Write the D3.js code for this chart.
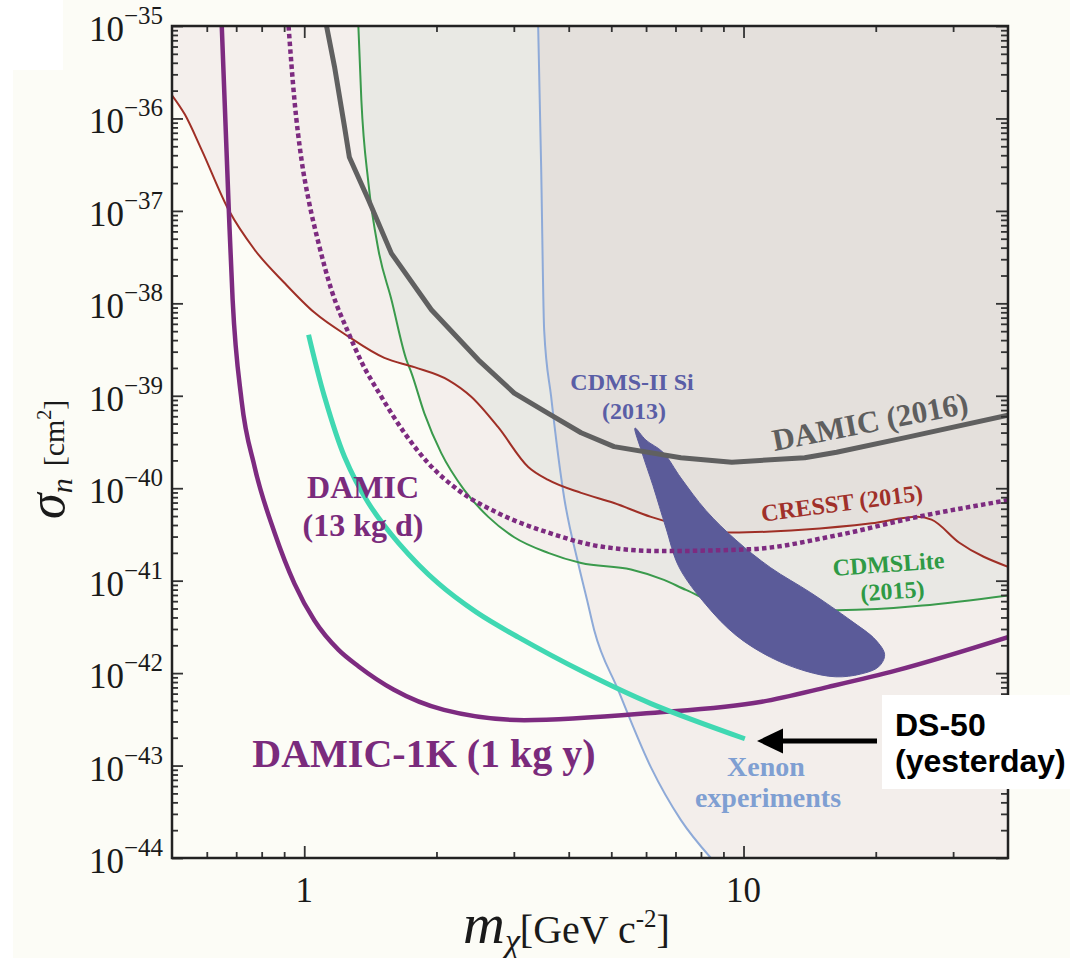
<!DOCTYPE html>
<html><head><meta charset="utf-8">
<script src="https://cdn.jsdelivr.net/npm/d3@7"></script>
<style>html,body{margin:0;padding:0;background:#fcfcf6;} svg{display:block;}</style>
</head><body>
<svg id="chart" width="1070" height="958"></svg>
<script>
// ---------- data (mass in GeV c^-2, cross-section in cm^2) ----------
const massDomain = [0.5, 40];
const sigmaDomain = [1e-44, 1e-35];
const massMajorTicks = [1, 10];
const massTickLabels = ["1", "10"];
const massMinorTicks = [0.6, 0.7, 0.8, 0.9, 2, 3, 4, 5, 6, 7, 8, 9, 20, 30];
const sigmaTickExponents = [-44, -43, -42, -41, -40, -39, -38, -37, -36, -35];

const damic1k = [[0.649,1e-35],[0.673,1.1e-37],[0.687,1.1e-38],[0.720,8.9e-40],[0.771,1.7e-40],[0.856,3.3e-41],[0.950,9.3e-42],[1.055,3.7e-42],[1.197,1.78e-42],[1.33,1.18e-42],[1.60,6.6e-43],[2.08,4.0e-43],[3.17,3.1e-43],[6.15,3.7e-43],[11.0,4.9e-43],[15.6,7.1e-43],[22.3,1.07e-42],[40,2.45e-42]];
const damic13 = [[0.921,1e-35],[0.950,1.58e-36],[0.986,3.55e-37],[1.023,1.32e-37],[1.078,4.47e-38],[1.154,1.38e-38],[1.261,4.79e-39],[1.349,2.34e-39],[1.498,9.77e-40],[1.690,3.98e-40],[1.917,1.86e-40],[2.242,9.55e-41],[2.764,5.37e-41],[3.592,3.31e-41],[4.740,2.34e-41],[6.486,2.09e-41],[10.39,2.19e-41],[16.29,3.09e-41],[24.9,4.90e-41],[40,7.41e-41]];
const damic2016 = [[1.124,1e-35],[1.172,3.63e-36],[1.235,8.13e-37],[1.267,3.80e-37],[1.400,1.32e-37],[1.579,3.47e-38],[1.947,8.51e-39],[2.490,2.45e-39],[3.006,1.07e-39],[3.592,6.46e-40],[4.268,3.98e-40],[5.073,2.82e-40],[7.203,2.14e-40],[9.406,1.91e-40],[13.78,2.14e-40],[16.29,2.45e-40],[23.5,3.55e-40],[40,6.17e-40]];
const cresst = [[0.5,1.78e-36],[0.535,1.10e-36],[0.584,4.57e-37],[0.673,1.02e-37],[0.771,3.80e-38],[0.902,1.66e-38],[1.055,7.94e-39],[1.261,4.37e-39],[1.522,2.57e-39],[1.781,2.04e-39],[2.128,1.48e-39],[2.400,9.77e-40],[2.764,4.57e-40],[3.235,1.70e-40],[3.592,1.23e-40],[4.268,8.91e-41],[5.073,6.92e-41],[6.156,4.90e-41],[9.406,3.31e-41],[13.57,3.55e-41],[19.57,4.17e-41],[24.9,4.90e-41],[26.79,4.57e-41],[31.0,2.57e-41],[40,1.41e-41]];
const cdmslite = [[1.328,1e-35],[1.349,1.58e-36],[1.400,2.00e-37],[1.475,3.80e-38],[1.579,1.10e-38],[1.708,2.45e-39],[1.753,1.78e-39],[1.877,6.46e-40],[2.051,2.40e-40],[2.314,9.55e-41],[2.624,4.90e-41],[3.006,2.95e-41],[3.592,2.00e-41],[4.268,1.55e-41],[5.544,1.32e-41],[6.59,1.02e-41],[7.394,7.94e-42],[9.406,5.13e-42],[16.29,4.79e-42],[40,6.92e-42]];
const xenon = [[3.408,1e-35],[3.462,2.95e-37],[3.517,5.13e-39],[3.648,9.77e-40],[3.905,7.94e-41],[4.202,1.55e-41],[4.404,6.17e-42],[4.569,2.95e-42],[5.18,6.61e-43],[6.156,9.55e-44],[7.203,2.57e-44],[8.428,1e-44]];
const ds50 = [[1.023,4.57e-39],[1.112,9.77e-40],[1.235,2.19e-40],[1.400,6.92e-41],[1.638,2.57e-41],[2.020,9.33e-42],[2.464,4.57e-42],[3.069,2.45e-42],[4.335,1.02e-42],[6.156,4.68e-43],[10.07,1.95e-43]];
const cdmsSi = [[5.662,4.47e-40],[5.998,3.31e-40],[6.556,2.45e-40],[7.203,1.29e-40],[8.21,5.75e-41],[9.61,2.75e-41],[11.53,1.38e-41],[14.22,7.41e-42],[17.53,3.72e-42],[19.98,2.29e-42],[20.95,1.58e-42],[20.30,1.17e-42],[18.48,9.77e-43],[16.21,9.12e-43],[13.86,1.05e-42],[11.53,1.48e-42],[9.61,2.57e-42],[8.21,5.50e-42],[7.128,1.41e-41],[6.66,3.72e-41],[6.22,1.07e-40],[5.87,2.45e-40]];

// ---------- layout ----------
const P = {left:172, right:1008, top:26, bottom:858};
const svg = d3.select("#chart");
const x = d3.scaleLog().domain(massDomain).range([P.left, P.right]);
const y = d3.scaleLog().domain(sigmaDomain).range([P.bottom, P.top]);
const SERIF = "'Liberation Serif','Times New Roman',serif";
const SANS = "'Liberation Sans',Arial,sans-serif";

svg.append("rect").attr("width",1070).attr("height",958).attr("fill","#fcfcf6");
svg.append("rect").attr("x",0).attr("y",0).attr("width",13).attr("height",958).attr("fill","#ffffff");
svg.append("rect").attr("x",0).attr("y",0).attr("width",63).attr("height",70).attr("fill","#ffffff");

const defs = svg.append("defs");
defs.append("clipPath").attr("id","plotclip").append("rect")
  .attr("x",P.left).attr("y",P.top).attr("width",P.right-P.left).attr("height",P.bottom-P.top);
const plot = svg.append("g").attr("clip-path","url(#plotclip)");

const line = (curve) => d3.line().x(d=>x(d[0])).y(d=>y(d[1])).curve(curve);
function region(points, extra, curve){
  return line(curve)(points) + extra.map(e=>`L${x(e[0])},${y(e[1])}`).join("") + "Z";
}
const sTop = sigmaDomain[1], sBot = sigmaDomain[0], mMin = massDomain[0], mMax = massDomain[1];

// excluded regions
const regA = region(cresst, [[mMax,sTop],[mMin,sTop]], d3.curveMonotoneX);   // CRESST
const regB = region(cdmslite, [[mMax,sTop]], d3.curveMonotoneX);               // CDMSLite
const regC = region(xenon, [[mMax,sBot],[mMax,sTop]], d3.curveMonotoneX);      // Xenon
defs.append("clipPath").attr("id","clipA").append("path").attr("d", regA);
defs.append("clipPath").attr("id","clipC").append("path").attr("d", regC);

plot.append("path").attr("d", regC).attr("fill","#f3eeeb");
plot.append("path").attr("d", regA).attr("fill","#f4efec");
plot.append("path").attr("d", regB).attr("fill","#f4efec");
plot.append("g").attr("clip-path","url(#clipA)").append("path").attr("d", regB).attr("fill","#e9e9e4");
plot.append("g").attr("clip-path","url(#clipC)").append("path").attr("d", regB).attr("fill","#e9e8e4");
plot.append("g").attr("clip-path","url(#clipC)").append("path").attr("d", regA).attr("fill","#e4e0dc");

// limit curves
plot.append("path").attr("d", line(d3.curveMonotoneX)(xenon)).attr("fill","none").attr("stroke","#8eaad8").attr("stroke-width",2);
plot.append("path").attr("d", line(d3.curveMonotoneX)(cdmslite)).attr("fill","none").attr("stroke","#3a9a4c").attr("stroke-width",2);
plot.append("path").attr("d", line(d3.curveMonotoneX)(cresst)).attr("fill","none").attr("stroke","#9f2f26").attr("stroke-width",2);
plot.append("path").attr("d", line(d3.curveCatmullRomClosed.alpha(0.5))(cdmsSi)).attr("fill","#5b5b99").attr("stroke","#5b5b99").attr("stroke-width",1);
plot.append("path").attr("d", line(d3.curveLinear)(damic2016)).attr("fill","none").attr("stroke","#606060").attr("stroke-width",5).attr("stroke-linejoin","round");
plot.append("path").attr("d", line(d3.curveMonotoneX)(damic13)).attr("fill","none").attr("stroke","#7d2b80").attr("stroke-width",4.5).attr("stroke-dasharray","4.5 3.2");
plot.append("path").attr("d", line(d3.curveMonotoneX)(damic1k)).attr("fill","none").attr("stroke","#7d2b80").attr("stroke-width",4.5).attr("stroke-linejoin","round");
plot.append("path").attr("d", line(d3.curveCatmullRom.alpha(0.5))(ds50)).attr("fill","none").attr("stroke","#40d8b2").attr("stroke-width",5).attr("stroke-linecap","butt");

// ---------- axes ----------
const sigmaMajor = sigmaTickExponents.map(e=>Math.pow(10,e));
const sigmaMinor = [];
sigmaTickExponents.slice(0,-1).forEach(e=>{ for(let k=2;k<=9;k++) sigmaMinor.push(k*Math.pow(10,e)); });

function styleAxis(g){
  g.select(".domain").remove();
  g.selectAll(".tick line").attr("stroke","#333").attr("stroke-width",1.8);
  g.selectAll(".tick text").remove();
}
svg.append("g").attr("transform",`translate(${P.left},0)`).call(d3.axisLeft(y).tickValues(sigmaMajor).tickSize(-11)).call(styleAxis);
svg.append("g").attr("transform",`translate(${P.left},0)`).call(d3.axisLeft(y).tickValues(sigmaMinor).tickSize(-6)).call(styleAxis);
svg.append("g").attr("transform",`translate(${P.right},0)`).call(d3.axisRight(y).tickValues(sigmaMajor).tickSize(-12)).call(styleAxis);
svg.append("g").attr("transform",`translate(${P.right},0)`).call(d3.axisRight(y).tickValues(sigmaMinor).tickSize(-7)).call(styleAxis);
svg.append("g").attr("transform",`translate(0,${P.bottom})`).call(d3.axisBottom(x).tickValues(massMajorTicks).tickSize(-12)).call(styleAxis);
svg.append("g").attr("transform",`translate(0,${P.bottom})`).call(d3.axisBottom(x).tickValues(massMinorTicks).tickSize(-6)).call(styleAxis);
svg.append("g").attr("transform",`translate(0,${P.top})`).call(d3.axisTop(x).tickValues(massMajorTicks).tickSize(-12)).call(styleAxis);
svg.append("g").attr("transform",`translate(0,${P.top})`).call(d3.axisTop(x).tickValues(massMinorTicks).tickSize(-6)).call(styleAxis);

svg.append("rect").attr("x",P.left).attr("y",P.top).attr("width",P.right-P.left).attr("height",P.bottom-P.top)
  .attr("fill","none").attr("stroke","#222").attr("stroke-width",2.5);

// tick labels
sigmaTickExponents.forEach(e=>{
  const t = svg.append("text").attr("x",163).attr("y",y(Math.pow(10,e))+15)
    .attr("text-anchor","end").attr("font-family",SERIF).attr("fill","#1a1a1a");
  t.append("tspan").attr("font-size",35).text("10");
  t.append("tspan").attr("font-size",25).attr("dy",-17).text("\u2212"+Math.abs(e));
});
massMajorTicks.forEach((m,i)=>{
  svg.append("text").attr("x",x(m)).attr("y",902).attr("text-anchor","middle")
    .attr("font-family",SERIF).attr("font-size",35).attr("fill","#1a1a1a").text(massTickLabels[i]);
});

// axis titles
const yt = svg.append("text").attr("transform","translate(64,519) rotate(-90)").attr("font-family",SERIF).attr("fill","#1a1a1a");
yt.append("tspan").attr("font-style","italic").attr("font-size",52).text("\u03c3");
yt.append("tspan").attr("font-style","italic").attr("font-size",30).attr("dy",8).text("n");
yt.append("tspan").attr("font-size",30).attr("dy",-8).attr("dx",12).text("[cm");
yt.append("tspan").attr("font-size",20).attr("dy",-13).text("2");
yt.append("tspan").attr("font-size",30).attr("dy",13).text("]");

const xt = svg.append("text").attr("x",463).attr("y",943).attr("font-family",SERIF).attr("fill","#1a1a1a");
xt.append("tspan").attr("font-style","italic").attr("font-size",58).text("m");
xt.append("tspan").attr("font-style","italic").attr("font-size",34).attr("dy",9).text("\u03c7");
xt.append("tspan").attr("font-size",40).attr("dy",-9).text("[GeV c");
xt.append("tspan").attr("font-size",25).attr("dy",-16).text("-2");
xt.append("tspan").attr("font-size",40).attr("dy",16).text("]");

// ---------- annotations ----------
function label(txt, px, py, size, color, rot){
  svg.append("text").attr("transform",`translate(${px},${py}) rotate(${rot||0})`)
    .attr("text-anchor","middle").attr("font-family",SERIF).attr("font-weight","bold")
    .attr("font-size",size).attr("fill",color).text(txt);
}
label("DAMIC (2016)", 872, 432, 31, "#5e5e5e", -11);
label("CRESST (2015)", 843, 511, 24, "#a0302a", -7.5);
label("CDMSLite", 889, 572, 24, "#2f9a45", -4);
label("(2015)", 893, 599, 24, "#2f9a45", -4);
label("CDMS-II Si", 632, 390, 24, "#5a5ea6", 0);
label("(2013)", 634, 419, 24, "#5a5ea6", 0);
label("DAMIC", 363, 498, 32, "#7a2b7c", 0);
label("(13 kg d)", 363, 536, 32, "#7a2b7c", 0);
label("DAMIC-1K (1 kg y)", 424, 767, 40, "#7a2b7c", 0);
label("Xenon", 766, 776, 28, "#7f9fd2", 0);
label("experiments", 768, 807, 28, "#7f9fd2", 0);

// DS-50 callout
svg.append("rect").attr("x",882).attr("y",695).attr("width",188).attr("height",94).attr("fill","#ffffff");
const ds = svg.append("text").attr("font-family",SANS).attr("font-weight","bold").attr("font-size",32).attr("fill","#000");
ds.append("tspan").attr("x",895).attr("y",736).text("DS-50");
ds.append("tspan").attr("x",895).attr("y",772).text("(yesterday)");
svg.append("line").attr("x1",877).attr("y1",741).attr("x2",778).attr("y2",741).attr("stroke","#000").attr("stroke-width",5);
svg.append("path").attr("d","M757,741L783,728.5L783,753.5Z").attr("fill","#000");
</script>
</body></html>
